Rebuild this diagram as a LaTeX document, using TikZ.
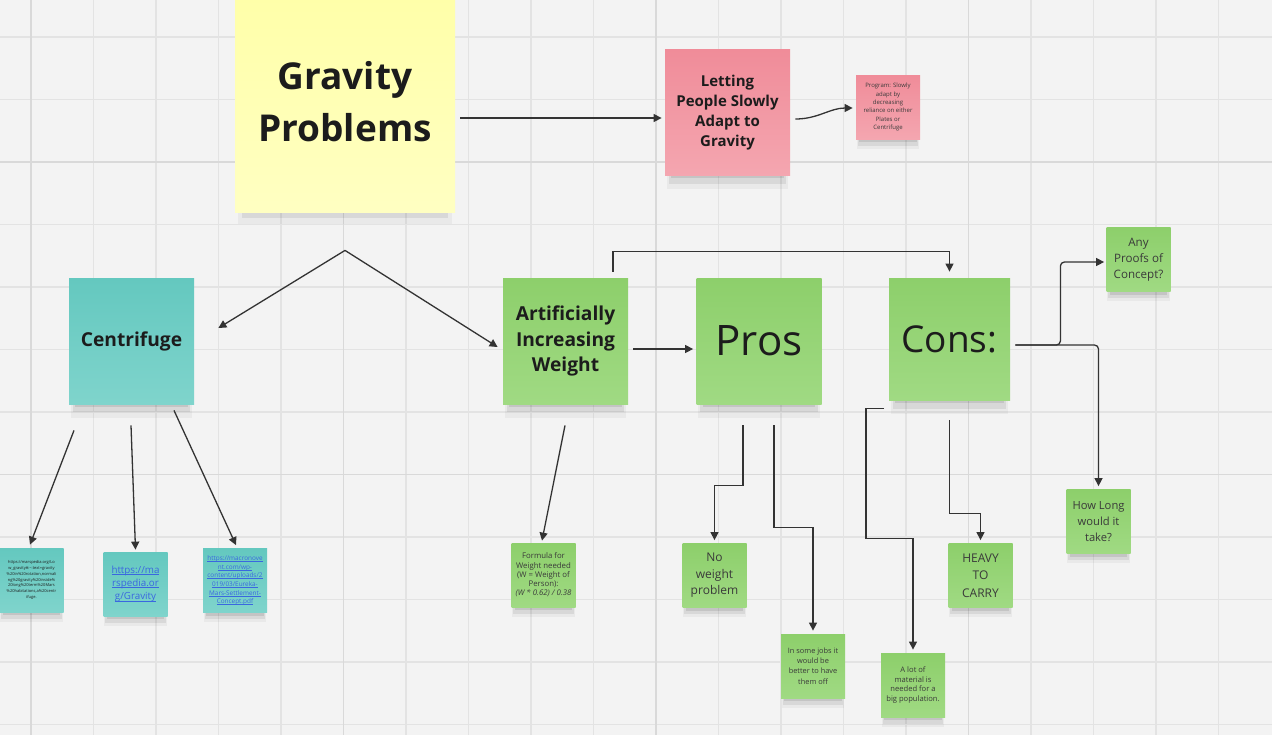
\documentclass[tikz,border=0pt]{standalone}
\usepackage{fontspec}
\setmainfont{Open Sans}
\usetikzlibrary{arrows.meta,shadows}

\definecolor{board}{HTML}{F3F3F3}
\definecolor{gridline}{HTML}{E3E3E3}
\definecolor{gridmajor}{HTML}{D9D9D9}
\definecolor{inkdark}{HTML}{1C1C1C}
\definecolor{inksoft}{HTML}{3A3A3A}
\definecolor{linkblue}{HTML}{3A67E0}
\definecolor{wire}{HTML}{333333}

% link text with a thin underline scaled to the font
\newcommand{\lnk}[1]{\setbox0\hbox{#1}\rlap{\rule[-0.13em]{\wd0}{0.06em}}\box0}

\tikzset{
	softshadow/.style={
		drop shadow={shadow xshift=0pt, shadow yshift=-#1*1.6pt, shadow scale=0.97, opacity=0.04, fill=black},
		drop shadow={shadow xshift=0pt, shadow yshift=-#1*1.3pt, shadow scale=0.94, opacity=0.07, fill=black},
		drop shadow={shadow xshift=0pt, shadow yshift=-#1*1.0pt, shadow scale=0.90, opacity=0.09, fill=black}},
	note/.style={rectangle, align=center, inner sep=0pt, text=inksoft, softshadow=5},
	bignote/.style={note, minimum width=62.5pt, minimum height=63pt},
	smallnote/.style={rectangle, align=center, inner sep=0pt, text=inksoft, softshadow=3.5,
		minimum width=32pt, minimum height=32pt},
	yellownote/.style={top color=yellow!34!white, bottom color=yellow!24!white},
	pinknote/.style={top color={rgb,255:red,240;green,140;blue,153}, bottom color={rgb,255:red,244;green,166;blue,176}},
	tealnote/.style={top color={rgb,255:red,100;green,200;blue,191}, bottom color={rgb,255:red,127;green,212;blue,204}},
	greennote/.style={top color={rgb,255:red,141;green,207;blue,107}, bottom color={rgb,255:red,160;green,218;blue,131}},
	arr/.style={draw=wire, line width=0.65pt, -{Triangle[length=4pt,width=4pt]}},
}

\begin{document}
\begin{tikzpicture}[x=0.5pt,y=-0.5pt]
	\useasboundingbox (0,0) rectangle (1272,735);
	\fill[board] (0,0) rectangle (1272,735);
	% board grid
	\foreach \i in {0,...,20}
		\draw[gridline, line width=0.6pt] ({31+62.5*\i},0) -- ({31+62.5*\i},735);
	\foreach \i in {0,...,11}
		\draw[gridline, line width=0.6pt] (0,{37+62.5*\i}) -- (1272,{37+62.5*\i});
	\foreach \i in {0,5,10,15}
		\draw[gridmajor, line width=0.9pt] ({31+62.5*\i},0) -- ({31+62.5*\i},735);
	\foreach \i in {2,7}
		\draw[gridmajor, line width=0.9pt] (0,{37+62.5*\i}) -- (1272,{37+62.5*\i});

	\node[note, yellownote, minimum width=110pt, minimum height=110pt, text=inkdark,
		font=\fontsize{18.5}{26}\selectfont\bfseries] (gp) at (345,102) {Gravity\\Problems};
	\node[bignote, pinknote, text=inkdark, font=\fontsize{7.5}{10}\selectfont\bfseries] (lp) at (727.5,112.5)
		{Letting\\People Slowly\\Adapt to\\Gravity};
	\node[smallnote, pinknote, font=\fontsize{3}{4.15}\selectfont] (pr) at (888,107)
		{Program: Slowly\\adapt by\\decreasing\\reliance on either\\Plates or\\Centrifuge};

	\node[bignote, tealnote, text=inkdark, font=\fontsize{9.6}{12.8}\selectfont\bfseries] (cf) at (131.5,341) {Centrifuge};
	\node[bignote, greennote, text=inkdark, font=\fontsize{9.6}{12.8}\selectfont\bfseries] (aw) at (565.5,341)
		{Artificially\\Increasing\\Weight};
	\node[bignote, greennote, text=inkdark, font=\fontsize{21}{25}\selectfont] (pros) at (759,341) {Pros};
	\node[bignote, greennote, minimum width=60.5pt, minimum height=61pt, text=inkdark,
		font=\fontsize{18.5}{22}\selectfont] (cons) at (949.5,339) {Cons:};

	\node[smallnote, greennote, font=\fontsize{5.8}{8}\selectfont] (proof) at (1138.5,259.5) {Any\\Proofs of\\Concept?};
	\node[smallnote, greennote, font=\fontsize{5.6}{8}\selectfont] (howlong) at (1098.5,521.5) {How Long\\would it\\take?};
	\node[smallnote, greennote, font=\fontsize{6}{8.8}\selectfont] (heavy) at (980.5,575.5) {HEAVY\\TO\\CARRY};
	\node[smallnote, greennote, font=\fontsize{6}{8.25}\selectfont] (nowt) at (714.5,575.5) {No\\weight\\problem};
	\node[smallnote, greennote, font=\fontsize{3.7}{5.1}\selectfont] (jobs) at (813,666)
		{In some jobs it\\would be\\better to have\\them off};
	\node[smallnote, greennote, font=\fontsize{3.8}{4.8}\selectfont] (mat) at (913,685)
		{A lot of\\material is\\needed for a\\big population.};
	\node[smallnote, greennote, font=\fontsize{3.9}{4.6}\selectfont] (form) at (543.5,575)
		{Formula for\\Weight needed\\(W = Weight of\\Person):\\\textit{(W * 0.62) / 0.38}};

	\node[smallnote, tealnote, text=inkdark, font=\fontsize{2}{2.85}\selectfont] (lowg) at (31.5,580)
		{https://marspedia.org/Lo\\w\_gravity\#:\textasciitilde:text=gravity\\\%20in\%20rotation,normali\\ng\%20gravity\%20inside\%\\20long\%20term\%20Mars\\\%20habitations,a\%20centr\\ifuge.};
	\node[smallnote, tealnote, text=linkblue, font=\fontsize{4.9}{6.7}\selectfont] (mars) at (135.5,584)
		{\lnk{https://ma}\\\lnk{rspedia.or}\\\lnk{g/Gravity}};
	\node[smallnote, tealnote, text=linkblue, font=\fontsize{3.2}{4.3}\selectfont] (eureka) at (235,580.5)
		{\lnk{https://macronove}\\\lnk{nt.com/wp-}\\\lnk{content/uploads/2}\\\lnk{019/03/Eureka-}\\\lnk{Mars-Settlement-}\\\lnk{Concept.pdf}};

	% connectors
	\coordinate (fork) at ([shift={(0,38)}]gp.south);
	\draw[arr] ([shift={(5,16)}]gp.east) -- ([shift={(-3,5.5)}]lp.west);
	\draw[arr] ([shift={(5,6.5)}]lp.east) to[out=0,in=180] ([shift={(-3,1)}]pr.west);
	\draw[arr] (fork) -- ([shift={(24,-13)}]cf.east);
	\draw[arr] (fork) -- ([shift={(-5,6)}]aw.west);
	\draw[arr] ([shift={(5,8)}]aw.east) -- ([shift={(-3,8)}]pros.west);
	\draw[arr] ([shift={(47.5,-6)}]aw.north) -- ++(0,-20) -| ([shift={(0,-6)}]cons.north);

	\coordinate (consout) at ([shift={(5,6)}]cons.east);
	\draw[arr, rounded corners=2pt] (consout) -- ++(45,0) |- ([shift={(-2,2.5)}]proof.west);
	\draw[arr, rounded corners=2pt] (consout) -| ([shift={(0,-3)}]howlong.north);
	\draw[arr] ([shift={(-65.5,8)}]cons.south) -- ++(-18,0) -- ++(0,130) -| ([shift={(0,-3)}]mat.north);
	\draw[arr] ([shift={(0,20)}]cons.south) -- ++(0,93) -| ([shift={(0,-3)}]heavy.north);

	\draw[arr] ([shift={(-57.5,26)}]cf.south) -- ([shift={(-1.5,-3)}]lowg.north);
	\draw[arr] ([shift={(-0.5,21)}]cf.south) -- ([shift={(0,-2)}]mars.north);
	\draw[arr] ([shift={(42.5,6)}]cf.south) -- ([shift={(1,-3)}]eureka.north);
	\draw[arr] ([shift={(-0.5,21)}]aw.south) -- ([shift={(-1.5,-2)}]form.north);
	\draw[arr] ([shift={(-16,21)}]pros.south) -- ++(0,60) -| ([shift={(0,-3)}]nowt.north);
	\draw[arr] ([shift={(15,21)}]pros.south) -- ++(0,102) -| ([shift={(0,-3)}]jobs.north);
\end{tikzpicture}
\end{document}
